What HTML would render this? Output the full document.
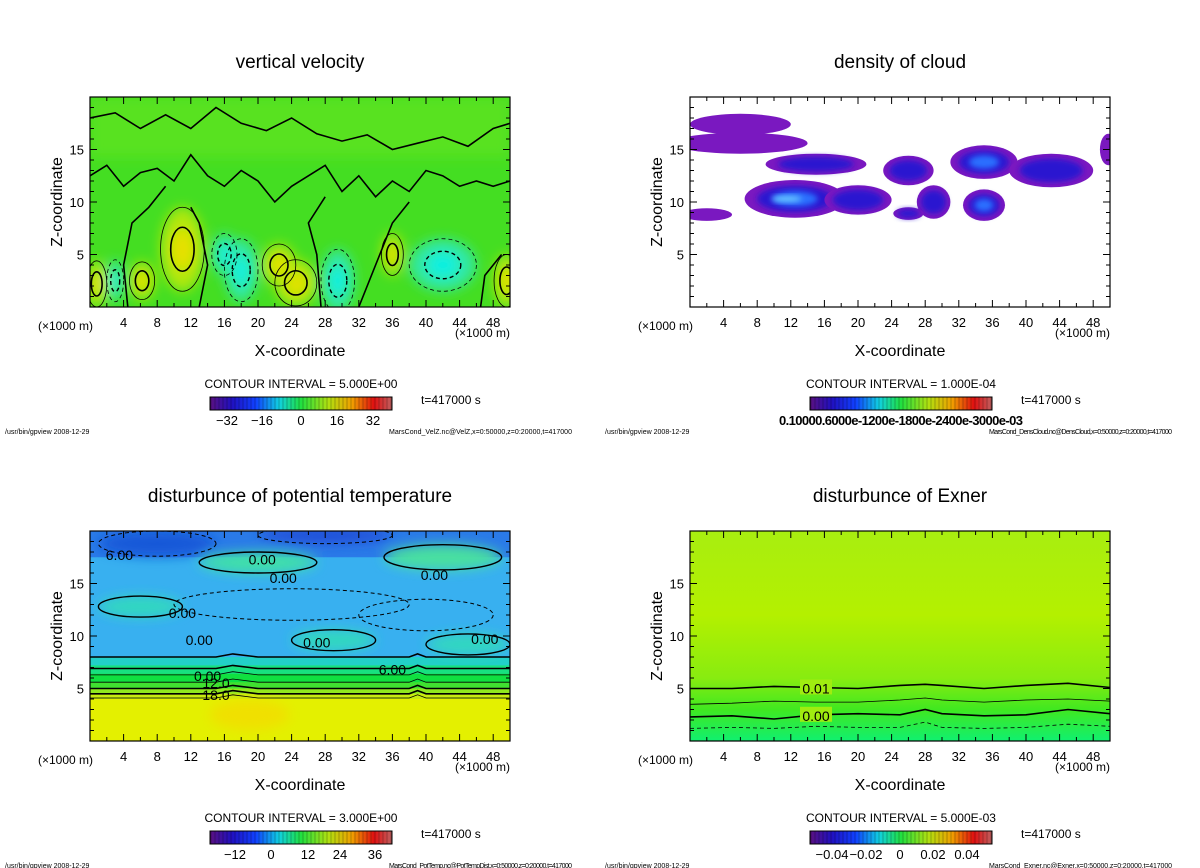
<!DOCTYPE html>
<html><head><meta charset="utf-8">
<style>
html,body{margin:0;padding:0;background:#fff;}
svg{display:block;font-family:"Liberation Sans",sans-serif;}
</style></head>
<body>
<svg id="fig" width="1200" height="868" viewBox="0 0 1200 868" xmlns="http://www.w3.org/2000/svg">
<defs>
 <filter id="blur6" x="-50%" y="-50%" width="200%" height="200%"><feGaussianBlur stdDeviation="6"/></filter>
 <filter id="blur3" x="-50%" y="-50%" width="200%" height="200%"><feGaussianBlur stdDeviation="3"/></filter>
 <linearGradient id="rainbow" x1="0" x2="1" y1="0" y2="0">
  <stop offset="0" stop-color="#5a1080"/><stop offset="0.12" stop-color="#2010c0"/>
  <stop offset="0.25" stop-color="#1040ff"/><stop offset="0.38" stop-color="#10d0e0"/>
  <stop offset="0.5" stop-color="#20e040"/><stop offset="0.65" stop-color="#b0e010"/>
  <stop offset="0.78" stop-color="#f0a000"/><stop offset="0.9" stop-color="#e01010"/>
  <stop offset="1" stop-color="#c06060"/>
 </linearGradient>
 <clipPath id="c1"><rect x="90" y="97" width="420" height="210"/></clipPath>
 <clipPath id="c2"><rect x="690" y="97" width="420" height="210"/></clipPath>
 <clipPath id="c3"><rect x="90" y="531" width="420" height="210"/></clipPath>
 <clipPath id="c4"><rect x="690" y="531" width="420" height="210"/></clipPath>
</defs>
</svg>
<script>
// ---- data arrays ----
const xTicks = [4,8,12,16,20,24,28,32,36,40,44,48];
const zTicks = [5,10,15];
const titles = ["vertical velocity","density of cloud","disturbunce of potential temperature","disturbunce of Exner"];
const intervals = ["CONTOUR INTERVAL = 5.000E+00","CONTOUR INTERVAL = 1.000E-04","CONTOUR INTERVAL = 3.000E+00","CONTOUR INTERVAL = 5.000E-03"];
const cbLabels = [["−32","−16","0","16","32"],[],["−12","0","12","24","36"],["−0.04","−0.02","0","0.02","0.04"]];
const cbLabelX = [[227,262,301,337,373],[],[235,271,308,340,375],[232,266,300,333,367]];
const footers = ["MarsCond_VelZ.nc@VelZ,x=0:50000,z=0:20000,t=417000","MarsCond_DensCloud.nc@DensCloud,x=0:50000,z=0:20000,t=417000","MarsCond_PotTemp.nc@PotTempDist,x=0:50000,z=0:20000,t=417000","MarsCond_Exner.nc@Exner,x=0:50000,z=0:20000,t=417000"];
// panel 1 blobs: x, z, rx, rz (km)
const velWarm = [[11,5.5,2.6,4],[0.8,2.2,1.2,2.2],[6.2,2.5,1.5,1.8],[24.5,2.3,2.5,2.2],[36,5,1.3,2],[49.6,2.5,1.5,2.5],[22.5,4,2,2]];
const velCold = [[18,3.5,2,3],[29.5,2.5,2,3],[42,4,4,2.5],[3,2.5,1,2],[16,5,1.5,2]];
const velTopLine = [[0,18],[3,18.5],[6,17],[9,18.3],[12,17],[15,19],[18,17.5],[21,16.8],[24,18],[27,16.5],[30,15.8],[33,16.4],[36,15],[39,15.6],[42,16.2],[45,15.3],[48,17],[50,17.5]];
const velMidLine = [[0,12.5],[2,13.5],[4,11.5],[6,12.8],[8,13.2],[10,12],[12,14.5],[14,12.5],[16,11.5],[18,13],[20,12],[22,10],[24,11.5],[26,12.5],[28,13.5],[30,11],[32,12.5],[34,10.5],[36,12],[38,11],[40,13],[42,12.5],[44,11.5],[46,12],[48,11.5],[50,12]];
const velZeroLines = [[[4.5,0],[4,4],[5,8],[7,9.5],[9,11.5]],[[13,0],[14,4],[13,8],[12,9.5]],[[27.5,0],[27,5],[26,8],[28,10.5]],[[32,0],[34,4],[36,8],[38,10]],[[46.5,0],[47,3],[49,5]]];
// panel 2 cloud patches: x, z, rx, rz, intensity 0..1
const clouds = [[6,17.4,6,1,0.1],[6,15.6,8,1,0.15],[15,13.6,6,1,0.3],[12.5,10.3,6,1.8,0.9],[20,10.2,4,1.4,0.5],[26,13,3,1.4,0.3],[29,10,2,1.6,0.35],[35,13.8,4,1.6,0.7],[43,13,5,1.6,0.4],[35,9.7,2.5,1.5,0.7],[49.8,15,1,1.5,0.1],[2,8.8,3,0.6,0.2],[26,8.9,1.8,0.6,0.3]];
// panel 3 temperature layers: z top, colour
const ptLayers = [[20,"#2a7ae8"],[17.5,"#38b0f0"],[8,"#22d0c8"],[7.2,"#18e080"],[6.4,"#10e040"],[5.6,"#40e030"],[5.0,"#90e820"],[4.5,"#c8ec10"],[4.0,"#e4f000"]];
const ptStreaks = [[20,17,7,1,"#40e0a8"],[42,17.5,7,1.2,"#48e0a0"],[6,12.8,5,1,"#30d8c0"],[29,9.6,5,1,"#30d8c0"],[45,9.2,5,1,"#30d8c0"],[8,18.8,7,1.2,"#1858d8"],[28,19.6,8,0.8,"#2050d8"]];
const ptLines = [8.0,6.9,6.3,5.6,5.0,4.5,4.1];
const ptLabels = [[14,6.3,"0.00"],[36,6.9,"6.00"],[15,5.6,"12.0"],[15,4.5,"18.0"],[3.5,17.8,"6.00"],[20.5,17.4,"0.00"],[23,15.6,"0.00"],[41,15.9,"0.00"],[11,12.3,"0.00"],[27,9.5,"0.00"],[47,9.8,"0.00"],[13,9.7,"0.00"]];
// panel 4 Exner contours: z at x-samples
const exX = [0,5,10,15,20,25,28,30,35,40,45,50];
const exLine1 = [5.0,5.0,5.2,5.1,5.0,5.3,5.4,5.3,5.0,5.3,5.5,5.1];
const exLine2 = [3.5,3.6,3.8,3.7,3.7,3.9,4.1,3.9,3.7,3.9,4.0,3.8];
const exLine3 = [2.3,2.4,2.1,2.5,2.6,2.5,3.0,2.6,2.4,2.5,3.0,2.6];
const exLine4 = [1.2,1.3,1.2,1.4,1.3,1.3,1.8,1.3,1.2,1.3,1.6,1.4];

// ---- helpers ----
const NS="http://www.w3.org/2000/svg";
const svg=document.getElementById('fig');
function el(tag,attrs,parent){const e=document.createElementNS(NS,tag);for(const k in attrs)e.setAttribute(k,attrs[k]);(parent||svg).appendChild(e);return e;}
const offs=[[0,0],[600,0],[0,434],[600,434]];
function X(p,x){return 90+offs[p][0]+x*8.4;}
function Z(p,z){return 307+offs[p][1]-z*10.5;}
function pathFrom(p,pts){return pts.map((q,i)=>(i?'L':'M')+X(p,q[0]).toFixed(1)+','+Z(p,q[1]).toFixed(1)).join(' ');}
function txt(x,y,s,size,anchor,parent){const t=el('text',{x:x,y:y,'font-size':size,'text-anchor':anchor||'middle',fill:'#000'},parent);t.textContent=s;return t;}

for(let p=0;p<4;p++){
 const ox=offs[p][0], oy=offs[p][1];
 const g=el('g',{});
 
 
 const plot=el('g',{'clip-path':'url(#c'+(p+1)+')'},g);
 
 
 if(p===0){
  el('rect',{x:90,y:97,width:420,height:210,fill:'#44de22'},plot);
  const f=el('g',{filter:'url(#blur6)'},plot);
  el('rect',{x:X(0,0),y:Z(0,20),width:420,height:60,fill:'#66e420',opacity:0.6},f);
  velWarm.forEach(b=>{el('ellipse',{cx:X(0,b[0]),cy:Z(0,b[1]),rx:b[2]*8.4,ry:b[3]*10.5,fill:'#b0e810'},f);
   el('ellipse',{cx:X(0,b[0]),cy:Z(0,b[1]),rx:b[2]*4,ry:b[3]*5,fill:'#e8e000'},f);});
  velCold.forEach(b=>{el('ellipse',{cx:X(0,b[0]),cy:Z(0,b[1]),rx:b[2]*8.4,ry:b[3]*10.5,fill:'#30e8a0'},f);
   el('ellipse',{cx:X(0,b[0]),cy:Z(0,b[1]),rx:b[2]*4,ry:b[3]*5,fill:'#10f0e0'},f);});
  velWarm.forEach(b=>{
   const c=el('ellipse',{cx:X(0,b[0]),cy:Z(0,b[1]),rx:b[2]*8.4,ry:b[3]*10.5,fill:'none',stroke:'#000','stroke-width':0.8},plot);
   
   el('ellipse',{cx:X(0,b[0]),cy:Z(0,b[1]),rx:b[2]*4.5,ry:b[3]*5.5,fill:'none',stroke:'#000','stroke-width':1.6},plot);});
  velCold.forEach(b=>{
   const c=el('ellipse',{cx:X(0,b[0]),cy:Z(0,b[1]),rx:b[2]*8.4,ry:b[3]*10.5,fill:'none',stroke:'#000','stroke-width':0.8,'stroke-dasharray':'4,3'},plot);
   
   el('ellipse',{cx:X(0,b[0]),cy:Z(0,b[1]),rx:b[2]*4.5,ry:b[3]*5.5,fill:'none',stroke:'#000','stroke-width':1.4,'stroke-dasharray':'4,3'},plot);});
  [velTopLine,velMidLine].concat(velZeroLines).forEach(l=>{
   const c=el('path',{d:pathFrom(0,l),fill:'none',stroke:'#000','stroke-width':1.6},plot);
   });
 } else if(p===1){
  el('rect',{x:690,y:97,width:420,height:210,fill:'#fff'},plot);
  clouds.forEach(c=>{
   const e=el('ellipse',{cx:X(1,c[0]),cy:Z(1,c[1]),rx:c[2]*8.4,ry:c[3]*10.5,fill:'#7a18c0'},plot);
   
   if(c[4]>0.25) el('ellipse',{cx:X(1,c[0]),cy:Z(1,c[1]),rx:c[2]*8.4*0.75,ry:c[3]*10.5*0.7,fill:'#2a18d0',filter:'url(#blur3)'},plot);
   if(c[4]>0.6) el('ellipse',{cx:X(1,c[0]),cy:Z(1,c[1]),rx:c[2]*8.4*0.45,ry:c[3]*10.5*0.4,fill:'#2a70ff',filter:'url(#blur3)'},plot);
   if(c[4]>0.85) el('ellipse',{cx:X(1,c[0]-1),cy:Z(1,c[1]),rx:c[2]*8.4*0.3,ry:c[3]*10.5*0.15,fill:'#70d0ff',filter:'url(#blur3)'},plot);
  });
 } else if(p===2){
  ptLayers.forEach(l=>{el('rect',{x:90,y:Z(2,l[0]),width:420,height:(l[0])*10.5,fill:l[1]},plot);});
  const f=el('g',{filter:'url(#blur6)'},plot);
  ptStreaks.forEach(s=>{el('ellipse',{cx:X(2,s[0]),cy:Z(2,s[1]),rx:s[2]*8.4,ry:s[3]*10.5,fill:s[4]},f);});
  el('ellipse',{cx:X(2,19),cy:Z(2,2.5),rx:40,ry:15,fill:'#f0e000'},f);
  ptLines.forEach(z=>{
   const c=el('path',{d:pathFrom(2,[[0,z],[15,z],[17,z+0.3],[20,z],[38,z],[39,z+0.3],[40,z],[50,z]]),fill:'none',stroke:'#000','stroke-width':z>7.5||z===6.9||z===5.0||z===4.5?1.6:0.8},plot);
   });
  ptStreaks.slice(0,5).forEach(s=>{el('ellipse',{cx:X(2,s[0]),cy:Z(2,s[1]),rx:s[2]*8.4,ry:s[3]*10.5,fill:'none',stroke:'#000','stroke-width':1.4},plot);});
  [[8,18.8,7,1.2],[28,19.6,8,0.8],[24,13,14,1.5],[40,12,8,1.5]].forEach(s=>{el('ellipse',{cx:X(2,s[0]),cy:Z(2,s[1]),rx:s[2]*8.4,ry:s[3]*10.5,fill:'none',stroke:'#000','stroke-width':1,'stroke-dasharray':'4,3'},plot);});
  ptLabels.forEach(l=>{const b=el('rect',{x:X(2,l[0])-16,y:Z(2,l[1])-7,width:32,height:13,fill:'none'},plot);
   const t=txt(X(2,l[0]),Z(2,l[1])+6,l[2],14,'middle',plot);});
 } else {
  const grd=el('linearGradient',{id:'exg',x1:0,x2:0,y1:0,y2:1},svg.querySelector('defs'));
  [[0,'#a8ee10'],[0.4,'#b4f000'],[0.7,'#88ec10'],[0.85,'#40e820'],[1,'#10f070']].forEach(s=>el('stop',{offset:s[0],'stop-color':s[1]},grd));
  el('rect',{x:690,y:531,width:420,height:210,fill:'url(#exg)'},plot);
  [[exLine1,1.6,'none'],[exLine2,0.8,'none'],[exLine3,1.6,'none'],[exLine4,0.8,'4,3']].forEach(l=>{
   const c=el('path',{d:pathFrom(3,exX.map((x,i)=>[x,l[0][i]])),fill:'none',stroke:'#000','stroke-width':l[1],'stroke-dasharray':l[2]},plot);
   });
  [[15,5.1,"0.01"],[15,2.5,"0.00"]].forEach(l=>{el('rect',{x:X(3,l[0])-16,y:Z(3,l[1])-8,width:32,height:15,fill:'#a0ec10'},plot);txt(X(3,l[0]),Z(3,l[1])+6,l[2],14,'middle',plot);});
 }
 // frame & ticks
 const fr=el('rect',{x:90+ox,y:97+oy,width:420,height:210,fill:'none',stroke:'#000','stroke-width':1.2},g);
 
 for(let x=2;x<50;x+=2){const big=x%4===0;
  el('line',{x1:X(p,x),x2:X(p,x),y1:307+oy,y2:307+oy-(big?7:4),stroke:'#000'},g);
  el('line',{x1:X(p,x),x2:X(p,x),y1:97+oy,y2:97+oy+(big?7:4),stroke:'#000'},g);}
 for(let z=1;z<20;z++){const big=z%5===0;
  el('line',{x1:90+ox,x2:90+ox+(big?7:4),y1:Z(p,z),y2:Z(p,z),stroke:'#000'},g);
  el('line',{x1:510+ox,x2:510+ox-(big?7:4),y1:Z(p,z),y2:Z(p,z),stroke:'#000'},g);}
 xTicks.forEach(x=>{const t=txt(X(p,x),327+oy,String(x),13,'middle',g);});
 zTicks.forEach(z=>{const t=txt(84+ox,Z(p,z)+5,String(z),13,'end',g);});
 const yl=txt(0,0,'Z-coordinate',16,'middle',g);yl.setAttribute('transform','translate('+(62+ox)+','+(202+oy)+') rotate(-90)');
 
 txt(38+ox,330+oy,'(×1000 m)',12,'start',g);
 txt(455+ox,337+oy,'(×1000 m)',12,'start',g);
 const xl=txt(300+ox,356+oy,'X-coordinate',16,'middle',g);
 const tt=txt(300+ox,68+oy,titles[p],19,'middle',g);
 const ci=txt(301+ox,388+oy,intervals[p],12,'middle',g);
 // colorbar
 const cb=el('g',{},g);
 el('rect',{x:210+ox,y:397+oy,width:182,height:13,fill:'url(#rainbow)'},cb);
 for(let i=0;i<46;i++) el('line',{x1:211+ox+i*4,x2:211+ox+i*4,y1:397+oy,y2:410+oy,stroke:'#000','stroke-opacity':0.35,'stroke-width':0.7},cb);
 el('rect',{x:210+ox,y:397+oy,width:182,height:13,fill:'none',stroke:'#000'},cb);
 cbLabels[p].forEach((s,i)=>{txt(cbLabelX[p][i]+ox,425+oy,s,13,'middle',cb);});
 if(p===1){const t=txt(779+ox-600,425,'0.10000.6000e-1200e-1800e-2400e-3000e-03',13,'start',cb);t.setAttribute('textLength',244);t.setAttribute('font-weight','bold');}
 txt(421+ox,404+oy,'t=417000 s',12,'start',g);
 txt(5+ox,434+oy,'/usr/bin/gpview  2008-12-29',7,'start',g);
 const ft=txt(389+ox,434+oy,footers[p],7,'start',g);ft.setAttribute('textLength',183);
}
</script>
</body></html>
